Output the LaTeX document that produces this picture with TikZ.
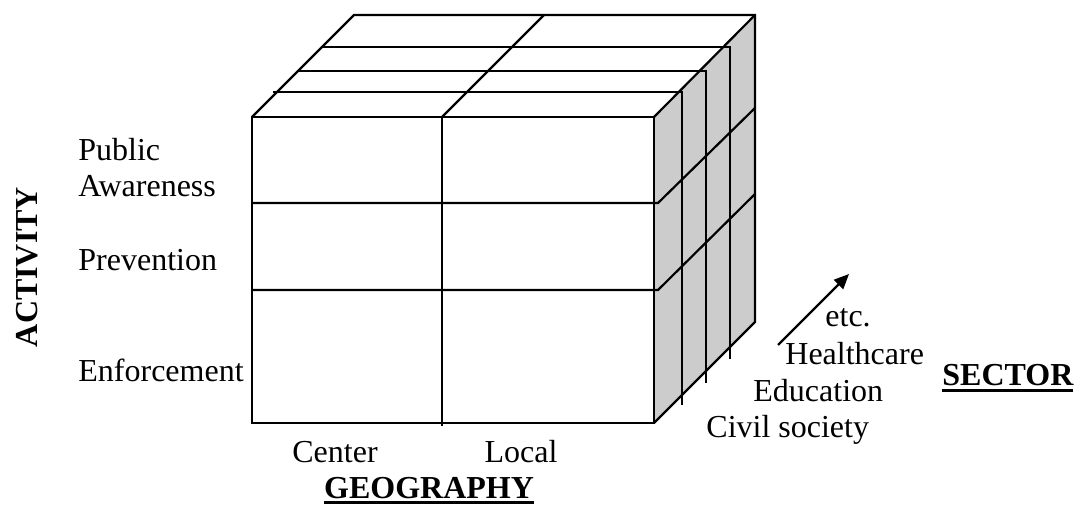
\documentclass[tikz,border=0pt]{standalone}
\usepackage{fontspec}
\setmainfont{Liberation Serif}
\usetikzlibrary{arrows.meta}
\definecolor{sidegray}{RGB}{204,204,204}
\newcommand\thickul[1]{\leavevmode\setbox0\hbox{#1}\rlap{\rule[-3pt]{\wd0}{1.3pt}}\box0}
\begin{document}
\begin{tikzpicture}[x=0.5pt,y=-0.5pt,
  edge/.style={line width=1.1pt, line join=miter},
  lbl/.style={font=\fontsize{16}{18}\selectfont, inner sep=0pt, anchor=base west},
  ttl/.style={font=\fontsize{16}{18}\selectfont\bfseries, inner sep=0pt}]
\useasboundingbox (0,0) rectangle (1074,506);
% cube corners
\coordinate (ftl) at (252,117);
\coordinate (ftr) at (654,117);
\coordinate (fbr) at (654,423);
\coordinate (fbl) at (252,423);
\coordinate (btl) at (354,15);
\coordinate (btr) at (755,15);
\coordinate (bbr) at (755,322);
% right face
\fill[sidegray] (ftr) -- (btr) -- (bbr) -- (fbr) -- cycle;
% outlines
\draw[edge] (ftl) -- (ftr) -- (fbr) -- (fbl) -- cycle;
\draw[edge] (ftl) -- (btl) -- (btr) -- (bbr) -- (fbr);
\draw[edge] (ftr) -- (btr);
% front divisions
\draw[edge] (442,117) -- (442,426);
\draw[edge] (252,203) -- (658,203) -- (755,108);
\draw[edge] (252,290) -- (658,290) -- (755,194);
% top face
\draw[edge] (442,117) -- (544,15);
\draw[edge] (273,92) -- (682,92) -- (682,405);
\draw[edge] (299,71) -- (706,71) -- (706,383);
\draw[edge] (323,47) -- (730,47) -- (730,359);
% labels
\node[lbl] (public) at (78,161) {Public};
\node[lbl] (aware) at (78,197) {Awareness};
\node[lbl] (prev) at (78,271) {Prevention};
\node[lbl] (enf) at (78,382) {Enforcement};
\node[ttl, rotate=90] (activity) at (27,267) {ACTIVITY};
\node[lbl, anchor=base] (center) at (335,463) {Center};
\node[lbl, anchor=base] (local) at (521,463) {Local};
\node[ttl, anchor=base] (geo) at (429,498) {\thickul{GEOGRAPHY}};
\node[lbl] (etc) at (825,327) {etc.};
\node[lbl] (health) at (785,365) {Healthcare};
\node[lbl] (edu) at (753,402) {Education};
\node[lbl] (civil) at (706,438) {Civil society};
\node[ttl, anchor=base west] (sector) at (942,386) {\thickul{SECTOR}};
% arrow
\coordinate (a0) at (778,345);
\coordinate (a1) at (849,274);
\draw[line width=1.1pt, -{Triangle[length=7.5pt,width=6.5pt]}] (a0) -- (a1);
\end{tikzpicture}
\end{document}
